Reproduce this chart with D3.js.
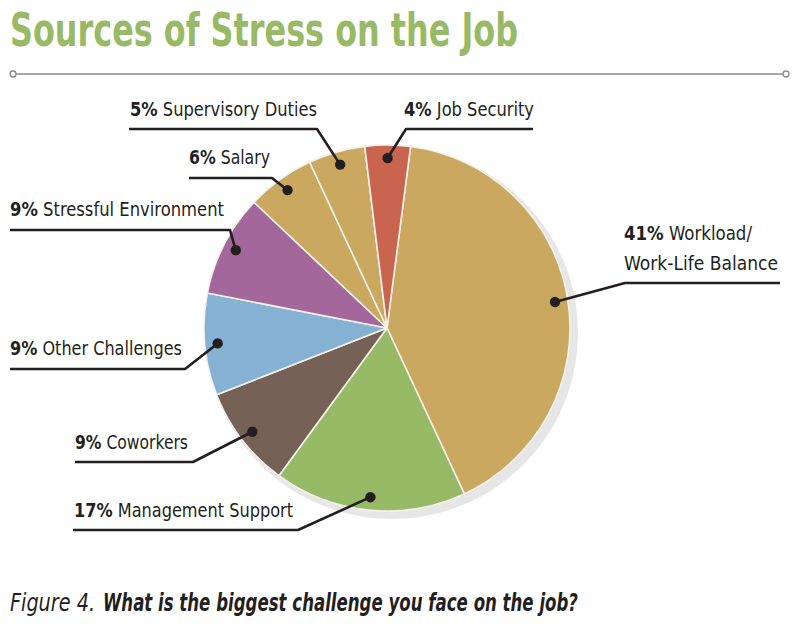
<!DOCTYPE html>
<html>
<head>
<meta charset="utf-8">
<script src="https://cdn.jsdelivr.net/npm/d3@7"></script>
<style>
  html, body { margin: 0; padding: 0; background: #fff; }
  svg { display: block; }
</style>
</head>
<body>
<div id="chart"></div>
<script>
// ---- Data -------------------------------------------------------
const categories = ['Workload/', 'Management Support', 'Coworkers', 'Other Challenges',
                    'Stressful Environment', 'Salary', 'Supervisory Duties', 'Job Security'];
const extraLine  = ['Work-Life Balance', '', '', '', '', '', '', ''];
const values     = [41, 17, 9, 9, 9, 6, 5, 4];
const colors     = ['#cba85f', '#97ba67', '#766156', '#85b1d2', '#a4679c', '#cba85f', '#cba85f', '#c9644f'];

// label placement: text x/baseline, underline y + span, fitted text width
const labelPos = [
  { tx: 624, ty: 240, w: 128, w2: 154, uy: 283, ux0: 625, ux1: 780, ex: 625 },
  { tx: 74,  ty: 517, w: 219, uy: 530, ux0: 73,  ux1: 298, ex: 298 },
  { tx: 75,  ty: 449, w: 113, uy: 462, ux0: 75,  ux1: 193, ex: 193 },
  { tx: 10,  ty: 355, w: 172, uy: 369, ux0: 10,  ux1: 185, ex: 185 },
  { tx: 10,  ty: 216, w: 214, uy: 230, ux0: 10,  ux1: 230, ex: 230 },
  { tx: 189, ty: 164, w: 81,  uy: 178, ux0: 189, ux1: 272, ex: 272 },
  { tx: 130, ty: 116, w: 187, uy: 129, ux0: 129, ux1: 317, ex: 317 },
  { tx: 404, ty: 116, w: 130, uy: 129, ux0: 406, ux1: 533, ex: 406 },
];

// ---- Build ------------------------------------------------------
const W = 800, H = 629;
const CX = 387, CY = 328, R = 183;
const INK = '#231f20';
const NARROW = "'Liberation Sans Narrow', 'DejaVu Sans Condensed', 'Roboto Condensed', 'Noto Sans', sans-serif";

const svg = d3.select('#chart').append('svg')
  .attr('width', W).attr('height', H);

// title
svg.append('text')
  .attr('x', 10).attr('y', 46)
  .attr('font-family', NARROW)
  .attr('font-weight', 'bold')
  .attr('font-size', 46)
  .attr('fill', '#98b965')
  .attr('textLength', 508)
  .attr('lengthAdjust', 'spacingAndGlyphs')
  .text('Sources of Stress on the Job');

// rule with end circles
svg.append('line')
  .attr('x1', 16).attr('x2', 783).attr('y1', 74).attr('y2', 74)
  .attr('stroke', '#8c8c8c').attr('stroke-width', 1.6);
[13, 786].forEach(x => {
  svg.append('circle').attr('cx', x).attr('cy', 74).attr('r', 3)
    .attr('fill', '#fff').attr('stroke', '#8c8c8c').attr('stroke-width', 1.3);
});

// pie
const pie = d3.pie()
  .value(d => d)
  .sort(null)
  .startAngle(7.4 * Math.PI / 180)
  .endAngle(7.4 * Math.PI / 180 + 2 * Math.PI);

const arcs = pie(values);
const arc = d3.arc().innerRadius(0).outerRadius(R);
const dotArc = d3.arc().innerRadius(170).outerRadius(170);

const g = svg.append('g').attr('transform', `translate(${CX},${CY})`);

// soft drop shadow
g.append('circle')
  .attr('cx', 5).attr('cy', 5).attr('r', R + 3)
  .attr('fill', '#e6e6e6');

g.selectAll('path.slice')
  .data(arcs)
  .join('path')
  .attr('class', 'slice')
  .attr('d', arc)
  .attr('fill', (d, i) => colors[i])
  .attr('stroke', '#f4f1ec')
  .attr('stroke-width', 1.6)
  .attr('stroke-linejoin', 'round');

// ---- Labels -----------------------------------------------------
const lab = svg.append('g')
  .attr('font-family', NARROW)
  .attr('font-size', 19)
  .attr('fill', INK);

arcs.forEach((a, i) => {
  const p = labelPos[i];
  const [dx, dy] = dotArc.centroid(a);
  const dot = [CX + dx, CY + dy];

  // leader: dot -> elbow -> underline
  const otherEnd = p.ex === p.ux0 ? p.ux1 : p.ux0;
  lab.append('path')
    .attr('d', d3.line()([dot, [p.ex, p.uy], [otherEnd, p.uy]]))
    .attr('fill', 'none')
    .attr('stroke', INK)
    .attr('stroke-width', 2.6)
    .attr('stroke-linejoin', 'round');
  lab.append('circle')
    .attr('cx', dot[0]).attr('cy', dot[1]).attr('r', 5.2)
    .attr('fill', INK);

  const t = lab.append('text')
    .attr('x', p.tx).attr('y', p.ty)
    .attr('textLength', p.w)
    .attr('lengthAdjust', 'spacingAndGlyphs');
  t.append('tspan').attr('font-weight', 'bold').text(values[i] + '%');
  t.append('tspan').text(' ' + categories[i]);

  if (extraLine[i]) {
    lab.append('text')
      .attr('x', p.tx).attr('y', p.ty + 30)
      .attr('textLength', p.w2)
      .attr('lengthAdjust', 'spacingAndGlyphs')
      .text(extraLine[i]);
  }
});

// caption
const capG = svg.append('g')
  .attr('font-family', NARROW)
  .attr('font-size', 24)
  .attr('font-style', 'italic')
  .attr('fill', INK);
capG.append('text')
  .attr('x', 10).attr('y', 611)
  .attr('textLength', 85)
  .attr('lengthAdjust', 'spacingAndGlyphs')
  .text('Figure 4.');
capG.append('text')
  .attr('x', 103).attr('y', 611)
  .attr('font-weight', 'bold')
  .attr('textLength', 475)
  .attr('lengthAdjust', 'spacingAndGlyphs')
  .text('What is the biggest challenge you face on the job?');
</script>
</body>
</html>
